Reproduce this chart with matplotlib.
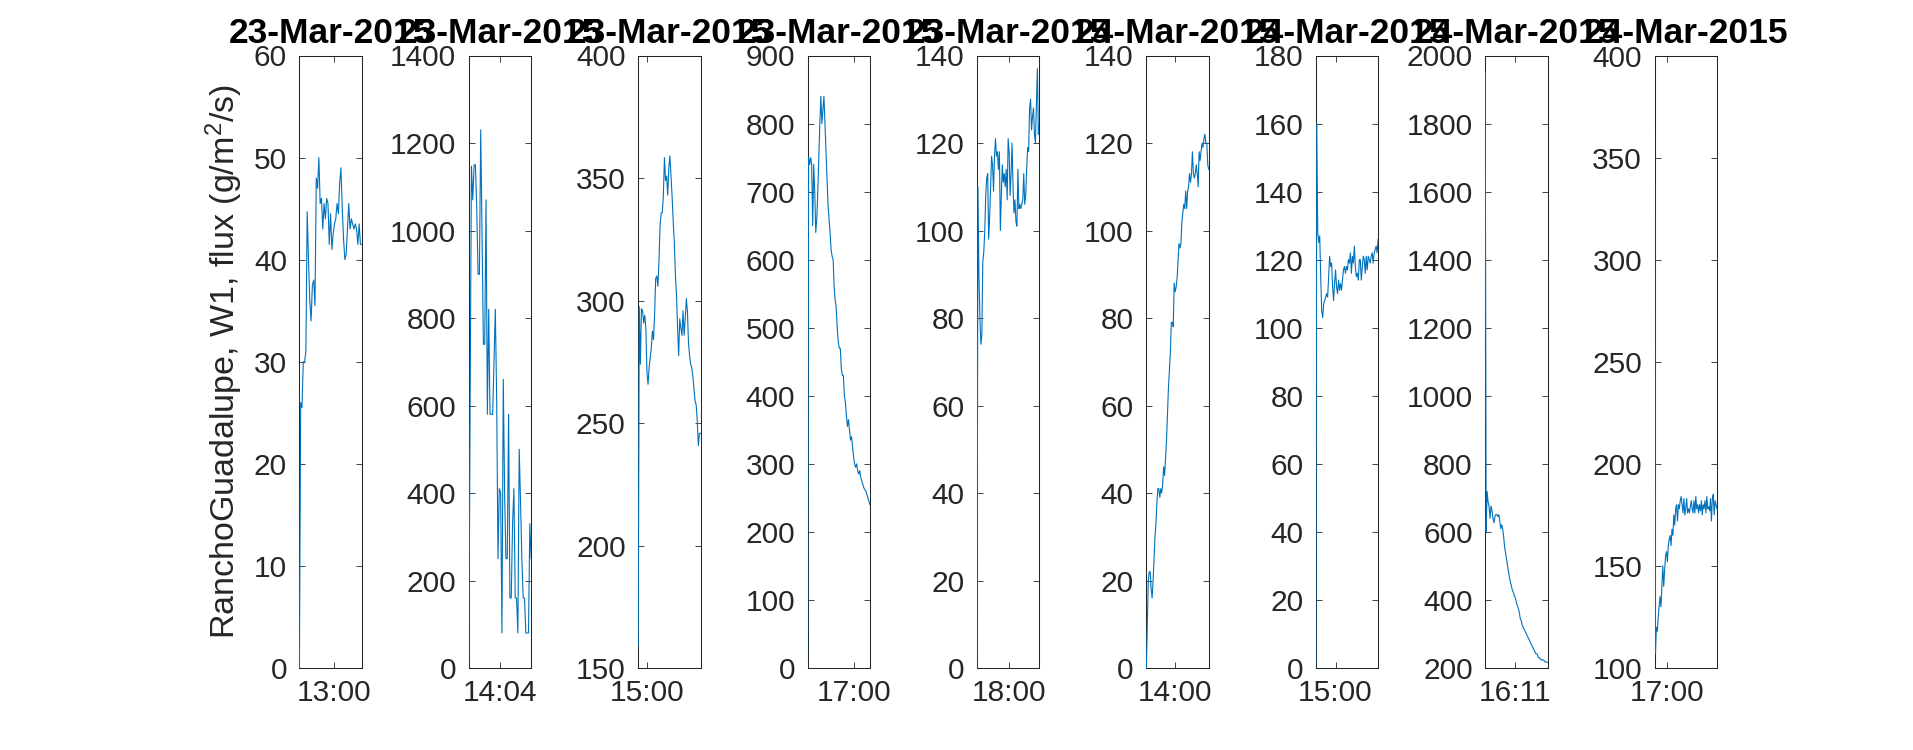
import numpy as np
import matplotlib.pyplot as plt

plt.rcParams['font.family'] = ['Liberation Sans', 'DejaVu Sans']
plt.rcParams['mathtext.default'] = 'regular'

# one panel per event
titles = ['23-Mar-2015'] * 5 + ['24-Mar-2015'] * 4
starts = ['12:27', '13:34', '14:52', '16:15', '17:30', '13:32', '14:41', '15:42', '16:48']
ends = ['13:27', '14:34', '15:51', '17:15', '18:29', '14:32', '15:41', '16:43', '17:48']
tick_labels = ['13:00', '14:04', '15:00', '17:00', '18:00', '14:00', '15:00', '16:11', '17:00']
y_limits = [(0, 60), (0, 1400), (150, 400), (0, 900), (0, 140), (0, 140), (0, 180), (200, 2000), (100, 400)]
y_steps = [10, 200, 50, 100, 20, 20, 20, 200, 50]

flux1 = [0, 26, 25.5, 30, 30, 31, 44.7, 40, 36, 34, 37.5, 38, 35.5, 48, 47, 50, 45.5, 46, 43,
         45.5, 44, 46, 45.5, 41.5, 44.5, 41, 42.5, 43.5, 44, 45.5, 44.5, 47.5, 49, 45, 42, 40,
         40.5, 43, 45.5, 43, 44, 43.5, 43, 43.5, 43, 41.5, 43.5, 41.5, 41.5]
flux2 = [0, 600, 1147, 1070, 1150, 1150, 1050, 900, 900, 1230, 990, 740, 740, 1070, 580, 820,
         580, 580, 580, 700, 820, 620, 250, 410, 400, 80, 660, 400, 250, 250, 580, 160, 160,
         330, 410, 160, 160, 80, 500, 380, 250, 160, 160, 80, 80, 80, 330, 250]
flux3 = [159, 297.5, 274, 296.7, 295.8, 290.8, 294, 289, 270.8, 265.8, 272.5, 276.7, 280.8,
         287.5, 284, 294, 309, 310, 305.8, 315.8, 330.8, 335.8, 335.8, 342.5, 358.3, 349,
         350.8, 343, 354, 359, 350.8, 342.5, 332.5, 324, 310.8, 302.5, 289, 277.5, 292.5, 289,
         285.8, 295.8, 285.8, 292.5, 300.8, 295.8, 282.5, 277.5, 274, 272.5, 269, 264, 259,
         257.5, 250.8, 240.8, 245.8, 245.8]
flux4 = [0, 750, 740, 750, 740, 650, 740, 700, 640, 660, 700, 750, 800, 840, 800, 820, 840, 800,
         760, 720, 680, 660, 640, 615, 605, 600, 560, 540, 530, 500, 480, 470, 470, 440, 430,
         430, 400, 390, 370, 355, 365, 350, 335, 340, 325, 310, 300, 295, 300, 290, 285, 290,
         280, 275, 270, 265, 262, 260, 255, 250, 245, 240]
flux5 = [0, 110, 90, 80, 74, 76, 93, 95, 100, 108, 112, 113, 98, 103, 110, 117, 115, 109, 117,
         121, 117, 118, 114, 118, 100, 108, 115, 111, 113, 110, 114, 107, 121, 118, 108, 113,
         120, 110, 104, 107, 102, 101, 114, 105, 106, 105, 106, 107, 113, 106, 108, 114, 119,
         118, 128, 130, 123, 126, 128, 122, 120, 129, 137, 122, 124]
flux6 = [0, 10, 20, 22, 22, 18, 16, 20, 25, 30, 33, 38, 41, 41, 39, 41, 40, 42, 46, 44, 48, 52,
         58, 64, 68, 72, 79, 79, 78, 88, 86, 87, 89, 93, 97, 96, 97, 102, 104, 106, 105, 109,
         105, 109, 110, 113, 111, 113, 118, 113, 112, 113, 115, 113, 110, 118, 116, 118, 120,
         119, 121, 122, 120, 120, 115, 114]
flux7 = [0, 160, 128, 125, 127, 115, 105, 103, 107, 108, 109, 110, 109, 115, 121, 118, 119, 112,
         108, 113, 117, 112, 110, 114, 111, 113, 111, 114, 117, 118, 116, 118, 117, 120, 119,
         122, 116, 121, 119, 124, 118, 115, 116, 114, 120, 120, 114, 118, 121, 120, 116, 121,
         117, 121, 120, 119, 121, 122, 119, 122, 123, 124, 122, 126]
flux8 = [1950, 600, 719, 688, 676, 640, 676, 664, 640, 627, 645, 651, 651, 645, 651, 633, 609,
         621, 609, 585, 555, 537, 519, 500, 482, 464, 452, 440, 428, 422, 412, 406, 394, 383,
         376, 364, 346, 340, 326, 320, 314, 308, 302, 296, 290, 284, 278, 272, 266, 260, 254,
         248, 242, 242, 236, 230, 230, 224, 224, 224, 224, 218, 218, 218, 216]
flux9 = [362, 107, 120, 118, 125, 130, 135, 130, 140, 150, 140, 148, 155, 157, 152, 160, 163,
         165, 160, 168, 165, 175, 170, 178, 180, 172, 180, 178, 182, 184, 180, 176, 183, 175,
         178, 183, 176, 178, 176, 179, 182, 178, 176, 182, 176, 184, 178, 180, 176, 180, 177,
         182, 175, 180, 178, 182, 176, 184, 178, 179, 177, 183, 172, 183, 185, 175, 182, 180,
         178]
series = [flux1, flux2, flux3, flux4, flux5, flux6, flux7, flux8, flux9]


def to_min(s):
    h, m = s.split(':')
    return int(h) * 60 + int(m)


fig = plt.figure(figsize=(19.13, 7.5), dpi=100)
left0, step, w = 0.1565, 0.08855, 0.0326
bottom, h = 0.1093, 0.8167
dark = '#262626'

for i, vals in enumerate(series):
    ax = fig.add_axes([left0 + i * step, bottom, w, h])
    t = np.linspace(to_min(starts[i]), to_min(ends[i]), len(vals))
    # zorder above spines so the first sample on the left edge stays visible
    ax.plot(t, vals, color='#0072BD', lw=0.8, zorder=3)
    ax.set_xlim(t[0], t[-1])
    lo, hi = y_limits[i]
    ax.set_ylim(lo, hi)
    ax.set_yticks(np.arange(lo, hi + 1, y_steps[i]))
    ax.set_xticks([to_min(tick_labels[i])])
    ax.set_xticklabels([tick_labels[i]])
    ax.tick_params(direction='in', length=4.3, width=0.6, top=True, right=True,
                   labelsize=21.5, colors=dark)
    ax.tick_params(axis='x', pad=8)
    ax.tick_params(axis='y', pad=9)
    for sp in ax.spines.values():
        sp.set_color(dark)
        sp.set_linewidth(0.75)
    ax.set_title(titles[i], fontsize=25.5, fontweight='bold', pad=9)

ax0 = fig.axes[0]
ax0.set_ylabel('RanchoGuadalupe, W1, flux (g/m$^2$/s)', fontsize=24.5, color=dark)
ax0.yaxis.set_label_coords(-0.88, 0.5)

fig.savefig('out.png', dpi=100)
